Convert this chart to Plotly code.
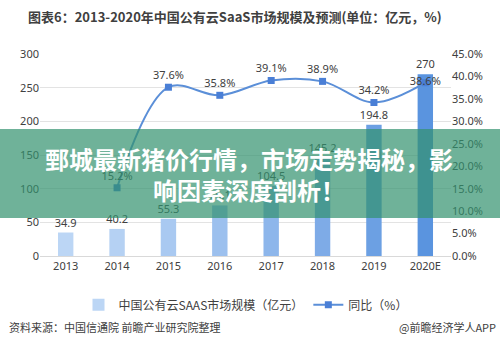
import plotly.graph_objects as go

years = ["2013", "2014", "2015", "2016", "2017", "2018", "2019", "2020E"]
market = [34.9, 40.2, 55.3, 75.1, 104.5, 145.2, 194.8, 270]
growth = [None, 15.2, 37.6, 35.8, 39.1, 38.9, 34.2, 38.6]
growth_labels = ["" if g is None else f"{g:.1f}%" for g in growth]
bar_colors = ["#bcd6f5", "#b5d1f3", "#a9c9f1", "#9cc0ee", "#8db6eb", "#7eabe7", "#6ca0e3", "#5a94df"]

title = "图表6：2013-2020年中国公有云SaaS市场规模及预测(单位：亿元，%)"
source = "资料来源：中国信通院 前瞻产业研究院整理"
brand = "@前瞻经济学人APP"
banner = "鄄城最新猪价行情，市场走势揭秘，影<br>响因素深度剖析！"

FONT = "Noto Sans, Noto Sans CJK SC, sans-serif"
CJK = "Noto Sans CJK SC, sans-serif"

fig = go.Figure()
fig.add_trace(go.Bar(
    x=years, y=market, name="中国公有云SAAS市场规模（亿元）",
    marker=dict(color=bar_colors, line=dict(width=0)),
    width=0.3,
    text=[f"{v:g}" for v in market], textposition="outside", constraintext="none",
    textfont=dict(size=11, color="#404040", family=FONT),
    cliponaxis=False,
))
fig.add_trace(go.Scatter(
    x=years, y=growth, name="同比（%）", yaxis="y2",
    mode="lines+markers+text",
    line=dict(color="#5b8fd8", width=2, shape="spline", smoothing=1.0),
    marker=dict(symbol="square", size=7, color="#4a7fd6"),
    text=growth_labels,
    textposition=["top center"] * 7 + ["middle center"],
    textfont=dict(size=11, color="#404040", family=FONT),
    cliponaxis=False,
))

fig.update_layout(
    width=500, height=350,
    margin=dict(l=40, r=49, t=54, b=94),
    paper_bgcolor="white", plot_bgcolor="white",
    font=dict(family=FONT, size=11, color="#595959"),
    showlegend=True,
    legend=dict(orientation="h", x=0.5, xanchor="center", y=-0.17, yanchor="top",
                font=dict(size=12, color="#404040", family=CJK), bgcolor="rgba(0,0,0,0)"),
    xaxis=dict(showgrid=False, showline=True, linecolor="#d9d9d9", ticks="",
               tickfont=dict(size=11, color="#404040")),
    yaxis=dict(range=[0, 300], dtick=50, showgrid=True, gridcolor="#e3e3e3",
               zeroline=False, ticks="", tickfont=dict(size=11, color="#404040")),
    yaxis2=dict(range=[0, 45], dtick=5, overlaying="y", side="right", showgrid=False,
                zeroline=False, ticksuffix="%", tickformat=".1f",
                tickfont=dict(size=11, color="#404040")),
)

fig.add_annotation(text=f"<b>{title}</b>", xref="paper", yref="paper",
                   x=-0.035, y=1.0, yshift=38, xanchor="left", yanchor="middle",
                   showarrow=False, font=dict(size=13, color="#404040", family=CJK))
fig.add_annotation(text=source, xref="paper", yref="paper", x=-0.08, y=0, yshift=-71,
                   xanchor="left", yanchor="middle", showarrow=False,
                   font=dict(size=11, color="#404040", family=CJK))
fig.add_annotation(text=brand, xref="paper", yref="paper", x=1.115, y=0, yshift=-71,
                   xanchor="right", yanchor="middle", showarrow=False,
                   font=dict(size=11, color="#404040", family=CJK))

# banner overlay
fig.add_shape(type="rect", xref="paper", yref="paper", x0=-0.2, x1=1.2,
              y0=(256 - 218) / 202, y1=(256 - 129) / 202,
              fillcolor="rgba(50,145,110,0.7)", line=dict(width=0), layer="above")
fig.add_annotation(text=f"<b>{banner}</b>", xref="paper", yref="paper",
                   x=0.5, y=(256 - 174) / 202, xanchor="center", yanchor="middle",
                   xshift=3, showarrow=False, align="center",
                   font=dict(size=24, color="white", family=CJK))

fig.write_html("out.html")
